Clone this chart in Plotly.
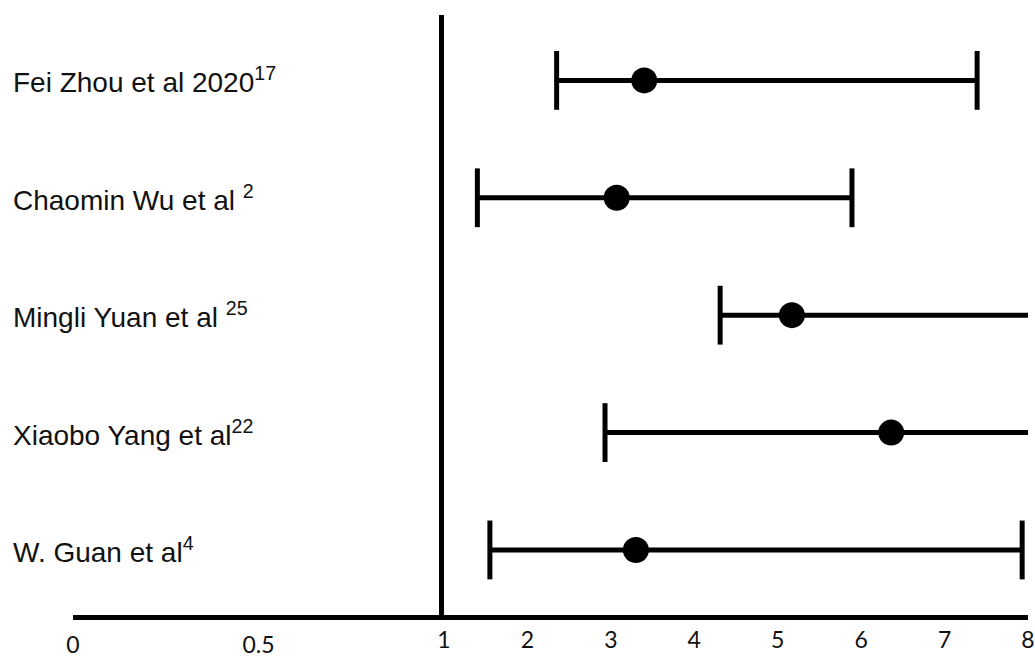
import plotly.graph_objects as go

# ---- data ----
studies = [
    "Fei Zhou et al 2020<sup>17</sup>",
    "Chaomin Wu et al <sup>2</sup>",
    "Mingli Yuan et al <sup>25</sup>",
    "Xiaobo Yang et al<sup>22</sup>",
    "W. Guan et al<sup>4</sup>",
]
keys = ["Zhou", "Wu", "Yuan", "Yang", "Guan"]
odds_ratio = [3.40, 3.07, 5.17, 6.36, 3.30]
ci_low = [2.35, 1.40, 4.31, 2.93, 1.55]
ci_high = [7.39, 5.89, 9.50, 9.50, 7.93]   # >8 : interval runs off the axis

left_ticks = [0, 0.5]
right_ticks = [1, 2, 3, 4, 5, 6, 7, 8]

W, H = 1035, 657
black = "#000000"

fig = go.Figure()

# empty trace so the left (0-1) axis pair exists
fig.add_trace(go.Scatter(x=[], y=[], xaxis="x", yaxis="y", showlegend=False))

for k, lo, hi, orr in zip(keys, ci_low, ci_high, odds_ratio):
    fig.add_trace(go.Scatter(
        x=[lo, hi], y=[k, k], xaxis="x2", yaxis="y", mode="lines",
        line=dict(color=black, width=5), showlegend=False, hoverinfo="skip"))
    fig.add_trace(go.Scatter(
        x=[lo, hi], y=[k, k], xaxis="x2", yaxis="y", mode="markers",
        marker=dict(symbol="line-ns", size=42, line=dict(color=black, width=5)),
        cliponaxis=True, showlegend=False, hoverinfo="skip"))
    fig.add_trace(go.Scatter(
        x=[orr], y=[k], xaxis="x2", yaxis="y", mode="markers",
        marker=dict(symbol="circle", size=26, color=black),
        showlegend=False))

for k, name in zip(keys, studies):
    fig.add_annotation(
        x=0.011, xref="paper", y=k, yref="y", xanchor="left", yanchor="middle",
        text=name, showarrow=False,
        font=dict(family="Liberation Sans, Arial", size=28, color="#111111"))

split = 444 / W
tick_font = dict(family="Lato, Open Sans", size=23, color="#111111")

fig.update_layout(
    width=W, height=H,
    margin=dict(l=0, r=0, t=15, b=42, autoexpand=False),
    plot_bgcolor="white", paper_bgcolor="white",
    showlegend=False,
    xaxis=dict(domain=[73 / W, split], range=[0, 1], anchor="y",
               tickvals=left_ticks, ticktext=[str(t) for t in left_ticks],
               showgrid=False, zeroline=False, ticks="", automargin=False,
               showline=True, linewidth=5, linecolor=black,
               tickfont=tick_font, ticklabelstandoff=5),
    xaxis2=dict(domain=[split, 1028 / W], range=[1, 8], anchor="y",
                tickvals=right_ticks, ticktext=[str(t) for t in right_ticks],
                showgrid=False, zeroline=False, ticks="", automargin=False,
                showline=True, linewidth=5, linecolor=black,
                tickfont=tick_font, ticklabelstandoff=0),
    yaxis=dict(type="category", categoryarray=keys[::-1],
               range=[-0.554, 4.557], anchor="x2", automargin=False,
               showticklabels=False, showgrid=False, zeroline=False,
               ticks="", showline=True, linewidth=5, linecolor=black),
)

fig.write_html("out.html",
               config={"displayModeBar": False},
               post_script="document.body.style.margin='0';"
                           "document.body.style.overflow='hidden';")
